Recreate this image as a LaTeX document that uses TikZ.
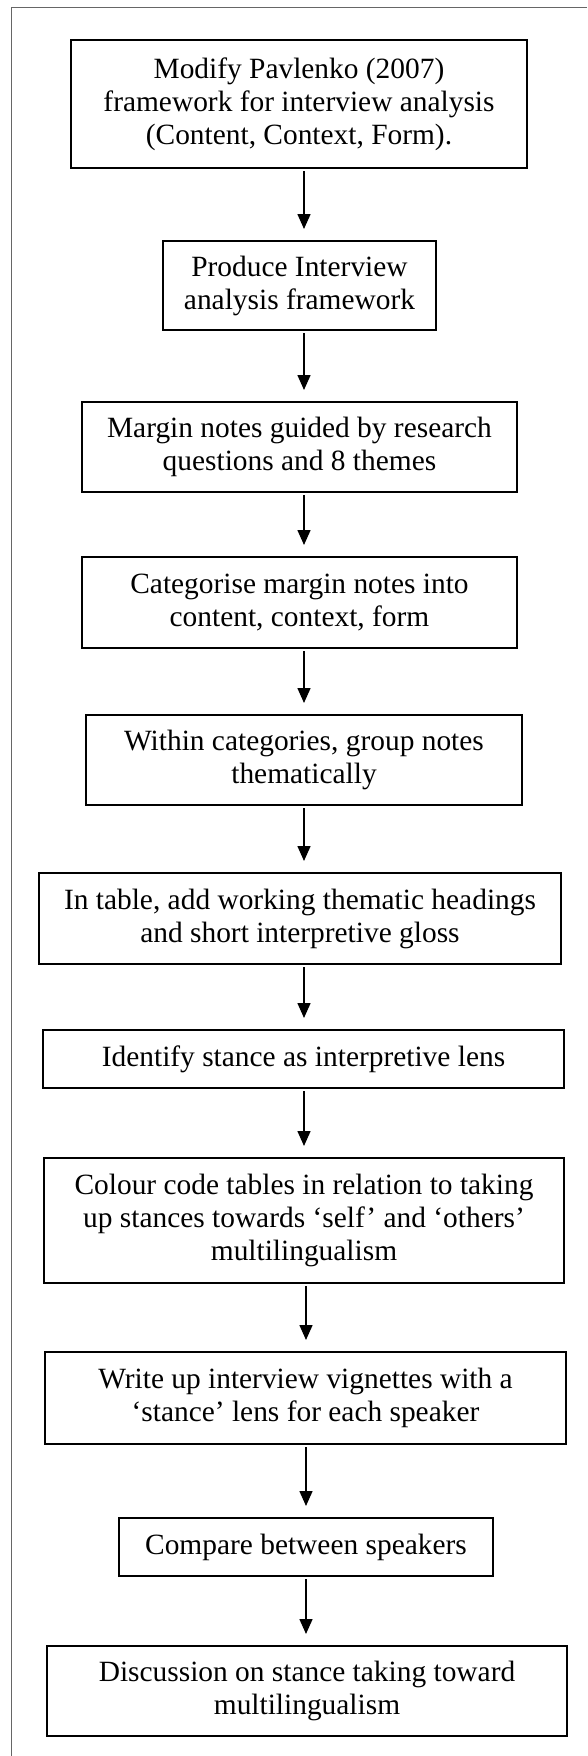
\documentclass[tikz,border=0pt]{standalone}
\usepackage{fontspec}
\setmainfont{Liberation Serif}
\usetikzlibrary{arrows.meta}
\tikzset{
  stepbox/.style={draw=black, line width=2pt, align=center, inner sep=0pt,
    font=\fontsize{29.4pt}{33pt}\selectfont},
  arr/.style={line width=1.5pt, -{Triangle[length=15pt,width=13pt]},
    shorten <=2pt, shorten >=11pt},
  frameline/.style={draw=black!60, line width=1pt}
}
\begin{document}
\begin{tikzpicture}[x=1pt,y=1pt]
\useasboundingbox (0,0) rectangle (587,-1756);
% page frame (top and left edges)
\draw[frameline] (587,-7) -- (11,-7) -- (11,-1756);

\node[stepbox, minimum width=456pt, minimum height=128pt] (b1) at (299,-104)
  {Modify Pavlenko (2007)\\framework for interview analysis\\(Content, Context, Form).};
\node[stepbox, minimum width=273pt, minimum height=89pt] (b2) at (299.5,-285.5)
  {Produce Interview\\analysis framework};
\node[stepbox, minimum width=435pt, minimum height=90pt] (b3) at (299.5,-447)
  {Margin notes guided by research\\questions and 8 themes};
\node[stepbox, minimum width=435pt, minimum height=91pt] (b4) at (299.5,-602.5)
  {Categorise margin notes into\\content, context, form};
\node[stepbox, minimum width=436pt, minimum height=90pt] (b5) at (304,-760)
  {Within categories, group notes\\thematically};
\node[stepbox, minimum width=522pt, minimum height=91pt] (b6) at (300,-918.5)
  {In table, add working thematic headings\\and short interpretive gloss};
\node[stepbox, minimum width=521pt, minimum height=58pt] (b7) at (303.5,-1059)
  {Identify stance as interpretive lens};
\node[stepbox, minimum width=520pt, minimum height=125pt] (b8) at (304,-1220.5)
  {Colour code tables in relation to taking\\up stances towards ‘self’ and ‘others’\\multilingualism};
\node[stepbox, minimum width=521pt, minimum height=92pt] (b9) at (305.5,-1398)
  {Write up interview vignettes with a\\‘stance’ lens for each speaker};
\node[stepbox, minimum width=374pt, minimum height=58pt] (b10) at (306,-1547)
  {Compare between speakers};
\node[stepbox, minimum width=520pt, minimum height=90pt] (b11) at (307,-1691)
  {Discussion on stance taking toward\\multilingualism};

% arrow columns
\coordinate (ax) at (304,0);
\coordinate (bx) at (306,0);

\draw[arr] (b1.south -| ax) -- (b2.north -| ax);
\draw[arr] (b2.south -| ax) -- (b3.north -| ax);
\draw[arr] (b3.south -| ax) -- (b4.north -| ax);
\draw[arr] (b4.south -| ax) -- (b5.north -| ax);
\draw[arr] (b5.south -| ax) -- (b6.north -| ax);
\draw[arr] (b6.south -| ax) -- (b7.north -| ax);
\draw[arr] (b7.south -| ax) -- (b8.north -| ax);
\draw[arr] (b8.south -| bx) -- (b9.north -| bx);
\draw[arr] (b9.south -| bx) -- (b10.north -| bx);
\draw[arr] (b10.south -| bx) -- (b11.north -| bx);
\end{tikzpicture}
\end{document}
